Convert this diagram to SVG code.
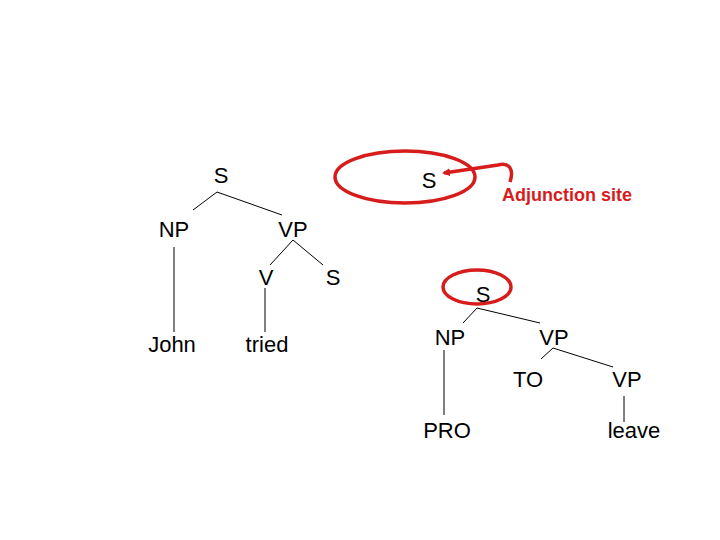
<svg xmlns="http://www.w3.org/2000/svg" width="720" height="540" viewBox="0 0 720 540">
<defs>
<style>
.t{font-family:"Liberation Sans",Arial,sans-serif;font-size:22px;fill:#000;text-anchor:middle}
.e{stroke:#000;stroke-width:1;fill:none}
.r{stroke:#d71c1c;stroke-width:3.5;fill:none}
.lab{font-family:"Liberation Sans",Arial,sans-serif;font-size:18px;font-weight:bold;fill:#d71c1c}
</style>
<marker id="ah" markerWidth="8" markerHeight="8" refX="6" refY="4" orient="auto" markerUnits="userSpaceOnUse" viewBox="0 0 8 8">
<path d="M0,0 L8,4 L0,8 Z" fill="#d71c1c"/>
</marker>
</defs>
<rect width="720" height="540" fill="#fff"/>
<g id="connectors">
<line class="e" x1="217" y1="192" x2="193" y2="210"/>
<line class="e" x1="217" y1="192" x2="282" y2="215"/>
<line class="e" x1="293" y1="240" x2="270" y2="265"/>
<line class="e" x1="293" y1="240" x2="323" y2="265"/>
<line class="e" x1="174" y1="247" x2="174" y2="332"/>
<line class="e" x1="265" y1="288" x2="265" y2="332"/>
<line class="e" x1="477" y1="308" x2="463" y2="323"/>
<line class="e" x1="477" y1="308" x2="540" y2="323"/>
<line class="e" x1="553" y1="348" x2="541" y2="359"/>
<line class="e" x1="553" y1="348" x2="613" y2="367"/>
<line class="e" x1="444" y1="350" x2="444" y2="415"/>
<line class="e" x1="624" y1="396" x2="624" y2="422"/>
</g>
<g id="n-S1"><text class="t" x="221" y="183">S</text></g>
<g id="n-NP1"><text class="t" x="174" y="237">NP</text></g>
<g id="n-VP1"><text class="t" x="293" y="237">VP</text></g>
<g id="n-V"><text class="t" x="266" y="285">V</text></g>
<g id="n-S2"><text class="t" x="333" y="285">S</text></g>
<g id="n-John"><text class="t" x="172" y="352">John</text></g>
<g id="n-tried"><text class="t" x="267" y="352">tried</text></g>
<g id="n-Stop"><text class="t" x="429" y="188">S</text></g>
<g id="n-S3"><text class="t" x="483" y="302">S</text></g>
<g id="n-NP2"><text class="t" x="450" y="345">NP</text></g>
<g id="n-VP2"><text class="t" x="554" y="345">VP</text></g>
<g id="n-TO"><text class="t" x="528" y="387">TO</text></g>
<g id="n-VP3"><text class="t" x="627" y="387">VP</text></g>
<g id="n-PRO"><text class="t" x="447" y="438">PRO</text></g>
<g id="n-leave"><text class="t" x="634" y="438">leave</text></g>
<g id="annotation">
<ellipse class="r" cx="405" cy="177" rx="70" ry="26"/>
<ellipse class="r" cx="477" cy="287" rx="34" ry="17"/>
<path class="r" d="M510,182 C514,170 510,162 498,165 L444,173" marker-end="url(#ah)"/>
<text class="lab" x="502" y="201">Adjunction site</text>
</g>
</svg>
